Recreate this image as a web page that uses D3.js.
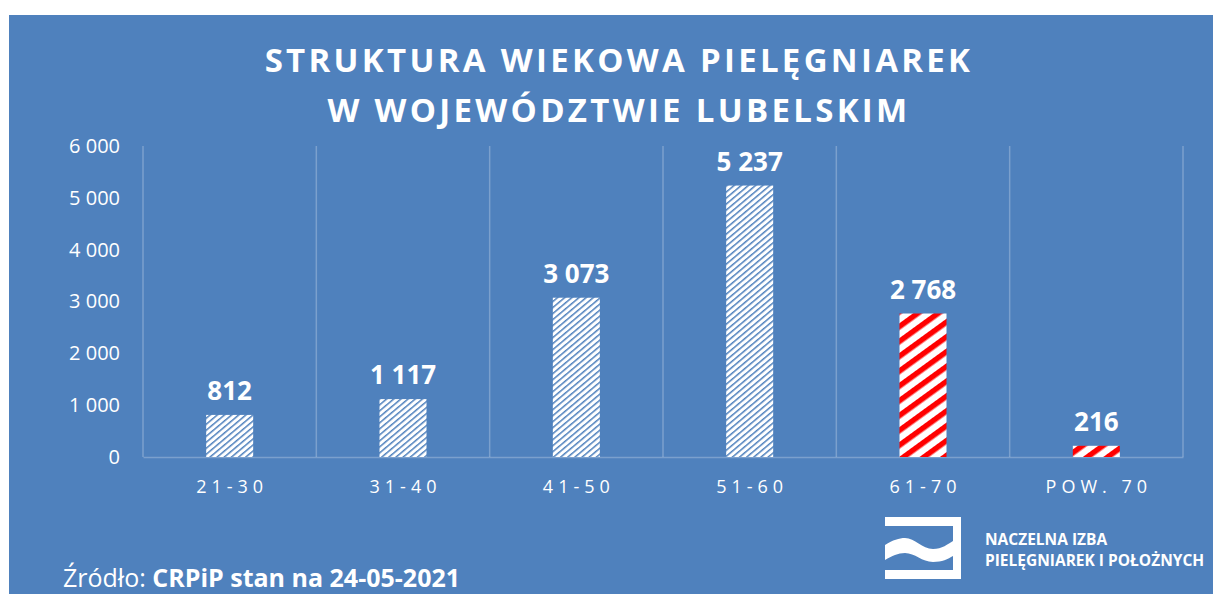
<!DOCTYPE html>
<html>
<head>
<meta charset="utf-8">
<script src="https://cdn.jsdelivr.net/npm/d3@7"></script>
<style>
  body { margin: 0; background: #fff; }
  svg { display: block; font-family: "Open Sans", sans-serif; }
</style>
</head>
<body>
<div id="chart-container"></div>
<script>
// Chart data
const categories = ["21-30", "31-40", "41-50", "51-60", "61-70", "POW. 70"];
const values = [812, 1117, 3073, 5237, 2768, 216];
const highlighted = [false, false, false, false, true, true];
const yTicks = [0, 1000, 2000, 3000, 4000, 5000, 6000];
const titleLines = ["STRUKTURA WIEKOWA PIELĘGNIAREK", "W WOJEWÓDZTWIE LUBELSKIM"];
const logoLines = ["NACZELNA IZBA", "PIELĘGNIAREK I POŁOŻNYCH"];

const W = 1213, H = 594;
const margin = { top: 146, right: 30, bottom: 137, left: 143 };
const width = 1183 - margin.left;
const height = 457 - margin.top;

const locale = d3.formatLocale({ decimal: ",", thousands: " ", grouping: [3], currency: ["", " zł"] });
const fmt = locale.format(",d");

const svg = d3.select("#chart-container")
  .append("svg")
  .attr("width", W)
  .attr("height", H);

// Patterns for bars
const defs = svg.append("defs");
const blue = defs.append("pattern")
  .attr("id", "hatch-blue")
  .attr("patternUnits", "userSpaceOnUse")
  .attr("width", 10)
  .attr("height", 4.6)
  .attr("patternTransform", "rotate(-40)");
blue.append("rect").attr("width", 10).attr("height", 4.6).attr("fill", "#fff");
blue.append("rect").attr("width", 10).attr("height", 1.5).attr("fill", "#4f81bd");

const red = defs.append("pattern")
  .attr("id", "hatch-red")
  .attr("patternUnits", "userSpaceOnUse")
  .attr("width", 20)
  .attr("height", 12)
  .attr("patternTransform", "rotate(-36)");
red.append("rect").attr("width", 20).attr("height", 12).attr("fill", "#fff");
red.append("rect").attr("width", 20).attr("height", 5.5).attr("fill", "#ff0000");

// Background
svg.append("rect")
  .attr("x", 9).attr("y", 15)
  .attr("width", W - 9).attr("height", H - 15)
  .attr("fill", "#4f81bd");

// Title
svg.append("text")
  .attr("text-anchor", "middle")
  .attr("fill", "#fff")
  .style("font-size", "33px")
  .style("font-weight", "bold")
  .style("letter-spacing", "3.3px")
  .selectAll("tspan")
  .data(titleLines)
  .enter().append("tspan")
  .attr("x", 619)
  .attr("y", (d, i) => 72 + i * 50)
  .text(d => d);

const g = svg.append("g")
  .attr("transform", `translate(${margin.left},${margin.top})`);

const x = d3.scaleBand()
  .domain(categories)
  .range([0, width])
  .paddingInner(0)
  .paddingOuter(0);

const y = d3.scaleLinear()
  .domain([0, 6000])
  .range([height, 0]);

// Vertical separators
const gridColor = "rgba(255,255,255,0.25)";
g.selectAll(".vgrid")
  .data(d3.range(categories.length + 1))
  .enter().append("line")
  .attr("class", "vgrid")
  .attr("x1", i => i * x.step())
  .attr("x2", i => i * x.step())
  .attr("y1", 0)
  .attr("y2", height)
  .attr("stroke", gridColor)
  .attr("stroke-width", 1.5);

// Y axis labels
const yAxis = g.append("g")
  .call(d3.axisLeft(y).tickValues(yTicks).tickFormat(fmt).tickSize(0).tickPadding(23));
yAxis.select(".domain").remove();
yAxis.selectAll("text")
  .attr("fill", "#fff")
  .style("font-size", "20px")
  .style("font-family", "'Open Sans', sans-serif");

// X axis
const xAxis = g.append("g")
  .attr("transform", `translate(0,${height})`)
  .call(d3.axisBottom(x).tickSize(0).tickPadding(23));
xAxis.select(".domain")
  .attr("stroke", gridColor)
  .attr("stroke-width", 1.5);
xAxis.selectAll("text")
  .attr("fill", "#fff")
  .attr("dx", "2.5px")
  .style("font-size", "18px")
  .style("letter-spacing", "5px")
  .style("font-family", "'Open Sans', sans-serif");

// Bars
const barW = 47;
g.selectAll(".bar")
  .data(values)
  .enter().append("rect")
  .attr("class", "bar")
  .attr("x", (d, i) => x(categories[i]) + x.bandwidth() / 2 - barW / 2)
  .attr("y", d => y(d))
  .attr("width", barW)
  .attr("height", d => height - y(d))
  .attr("fill", (d, i) => highlighted[i] ? "url(#hatch-red)" : "url(#hatch-blue)");

// Value labels
g.selectAll(".label")
  .data(values)
  .enter().append("text")
  .attr("class", "label")
  .attr("x", (d, i) => x(categories[i]) + x.bandwidth() / 2)
  .attr("y", d => y(d) - 15)
  .attr("text-anchor", "middle")
  .attr("fill", "#fff")
  .style("font-size", "26px")
  .style("font-weight", "bold")
  .text(d => fmt(d));

// Source
const src = svg.append("text")
  .attr("x", 63)
  .attr("y", 587)
  .attr("fill", "#fff")
  .style("font-size", "25px");
src.append("tspan").text("Źródło: ");
src.append("tspan").style("font-weight", "bold").text("CRPiP stan na 24-05-2021");

// Logo
const logo = svg.append("g").attr("fill", "#fff");
logo.append("path")
  .attr("d", "M885,517 H961 V579 H885 V570 H953 V526 H885 Z");
logo.append("path")
  .attr("d", "M885,545 C893,540 899,538 905,538 C915,538 922,549 933,549 C942,549 948,544 953,541 V556 C948,559 942,562 933,562 C922,562 915,553 905,553 C898,553 892,556 885,560 Z");
logo.append("text")
  .style("font-size", "15.5px")
  .style("font-weight", "bold")
  .selectAll("tspan")
  .data(logoLines)
  .enter().append("tspan")
  .attr("x", 985)
  .attr("y", (d, i) => 545 + i * 21)
  .text(d => d);
</script>
</body>
</html>
